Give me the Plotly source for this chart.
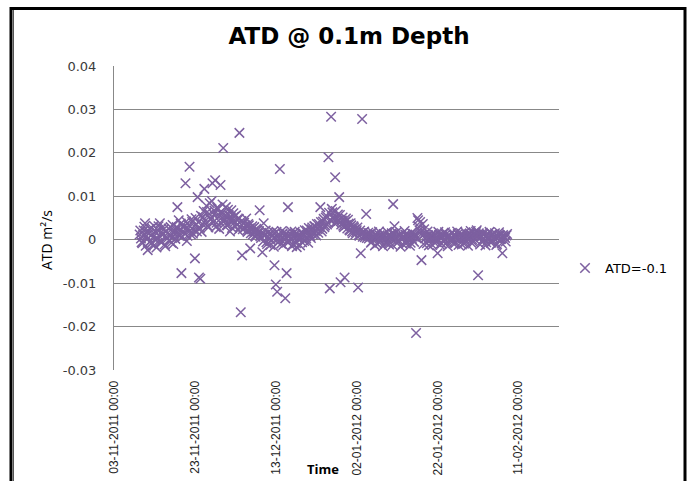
import pandas as pd
import plotly.graph_objects as go

# ---- chart text -------------------------------------------------------
title_text = "ATD @ 0.1m Depth"
series_name = "ATD=-0.1"
y_title = "ATD m\u00b2/s"
x_title = "Time"

# ---- sampling schedule of the logger (two interleaved 8-hourly runs) -----
first_sample = "2011-11-09 08:00"
first_sample_mid = "2011-11-09 12:00"
sample_step = "8h"

# ---- apparent thermal diffusivity at 0.1 m (m^2/s) --------------------------
# samples at 00:00 / 08:00 / 16:00
atd_values = [
    # 0-9
    0.0012, 0.0003, -0.0008, 0.0021, 0.0038, 0.0009, -0.0024, 0.0015, -0.0004, 0.0027,
    # 10-19
    0.0006, -0.0012, 0.0018, 0.0002, 0.0031, 0.0038, -0.0006, 0.0011, 0.0024, -0.0015,
    # 20-29
    0.0007, 0.0016, -0.0002, 0.0029, 0.0004, -0.0010, 0.0013, 0.0022, 0.0075, 0.0045,
    # 30-39
    0.0009, -0.0077, 0.0019, 0.0031, 0.0130, -0.0003, 0.0026, 0.0168, 0.0012, 0.0041,
    # 40-49
    0.0023, -0.0043, 0.0035, 0.0098, -0.0087, -0.0090, 0.0018, 0.0052, 0.0117, 0.0036,
    # 50-59
    0.0064, 0.0028, 0.0084, 0.0047, 0.0130, 0.0058, 0.0137, 0.0039, 0.0071, 0.0025,
    # 60-69
    0.0126, 0.0061, 0.0211, 0.0044, 0.0075, 0.0033, 0.0057, 0.0019, 0.0068, 0.0042,
    # 70-79
    0.0053, 0.0031, 0.0046, 0.0022, 0.0246, -0.0167, -0.0036, 0.0038, 0.0027, 0.0049,
    # 80-89
    0.0018, 0.0033, -0.0020, 0.0024, 0.0012, 0.0029, 0.0007, 0.0021, 0.0015, 0.0068,
    # 90-99
    0.0004, -0.0029, 0.0038, 0.0011, -0.0006, 0.0016, 0.0002, -0.0012, 0.0009, 0.0019,
    # 100-109
    -0.0059, -0.0103, -0.0120, 0.0003, 0.0163, -0.0009, 0.0014, 0.0001, -0.0135, -0.0077,
    # 110-119
    0.0075, -0.0004, 0.0012, -0.0015, 0.0007, 0.0018, -0.0008, 0.0003, 0.0011, -0.0013,
    # 120-129
    0.0006, 0.0015, -0.0003, 0.0009, 0.0021, -0.0007, 0.0013, 0.0004, 0.0028, 0.0017,
    # 130-139
    0.0031, 0.0010, 0.0024, 0.0036, 0.0075, 0.0019, 0.0042, 0.0029, 0.0051, 0.0035,
    # 140-149
    0.0190, -0.0112, 0.0283, 0.0063, 0.0047, 0.0144, 0.0039, 0.0058, 0.0098, -0.0098,
    # 150-159
    0.0044, 0.0032, -0.0087, 0.0049, 0.0026, 0.0037, 0.0021, 0.0033, 0.0015, 0.0028,
    # 160-169
    0.0012, 0.0022, -0.0110, 0.0009, -0.0031, 0.0278, 0.0017, 0.0006, 0.0059, 0.0011,
    # 170-179
    0.0003, 0.0014, -0.0005, 0.0008, 0.0002, 0.0012, -0.0009, 0.0005, 0.0010, -0.0002,
    # 180-189
    0.0007, 0.0013, -0.0006, 0.0004, 0.0009, -0.0011, 0.0006, 0.0015, 0.0082, 0.0031,
    # 190-199
    0.0001, 0.0008, -0.0004, 0.0011, 0.0003, -0.0010, 0.0006, 0.0012, -0.0003, 0.0005,
    # 200-209
    0.0009, -0.0007, 0.0002, 0.0013, 0.0007, -0.0215, 0.0050, 0.0030, 0.0041, -0.0047,
    # 210-219
    0.0036, 0.0024, 0.0004, -0.0008, 0.0010, 0.0002, 0.0006, -0.0012, 0.0008, 0.0003,
    # 220-229
    -0.0005, -0.0031, 0.0011, 0.0004, -0.0009, 0.0007, 0.0001, 0.0012, -0.0006, 0.0005,
    # 230-239
    0.0009, -0.0003, 0.0002, 0.0010, -0.0008, 0.0006, 0.0013, 0.0000, 0.0004, -0.0011,
    # 240-249
    0.0008, 0.0003, -0.0004, 0.0011, 0.0005, 0.0014, -0.0007, 0.0009, 0.0016, 0.0010,
    # 250-259
    0.0022, -0.0082, 0.0012, 0.0006, -0.0002, 0.0013, 0.0008, -0.0006, 0.0011, 0.0004,
    # 260-269
    0.0009, -0.0005, 0.0012, 0.0003, 0.0007, -0.0010, 0.0006, 0.0011, 0.0002, -0.0031,
    # 270-272
    0.0008, 0.0004, 0.0010,
]

# samples at 04:00 / 12:00 / 20:00
atd_values_mid = [
    # 0-9
    0.0021, -0.0006, 0.0011, 0.0030, -0.0014, 0.0017, 0.0004, 0.0025, -0.0009, 0.0013,
    # 10-19
    0.0032, 0.0001, -0.0018, 0.0022, 0.0008, -0.0003, 0.0027, 0.0014, -0.0011, 0.0019,
    # 20-29
    0.0003, 0.0026, 0.0010, -0.0007, 0.0034, 0.0016, 0.0002, 0.0029, 0.0012, 0.0023,
    # 30-39
    0.0037, 0.0006, 0.0028, 0.0015, 0.0042, 0.0009, 0.0033, 0.0021, 0.0047, 0.0014,
    # 40-49
    0.0031, 0.0050, 0.0019, 0.0040, 0.0027, 0.0055, 0.0036, 0.0066, 0.0043, 0.0078,
    # 50-59
    0.0032, 0.0059, 0.0048, 0.0089, 0.0041, 0.0067, 0.0029, 0.0074, 0.0053, 0.0062,
    # 60-69
    0.0038, 0.0081, 0.0049, 0.0057, 0.0034, 0.0069, 0.0045, 0.0052, 0.0027, 0.0061,
    # 70-79
    0.0040, 0.0056, 0.0035, 0.0048, 0.0030, 0.0043, 0.0024, 0.0039, 0.0033, 0.0021,
    # 80-89
    0.0036, 0.0026, 0.0015, 0.0031, 0.0019, 0.0009, 0.0025, 0.0014, 0.0020, 0.0008,
    # 90-99
    0.0016, -0.0004, 0.0012, 0.0021, -0.0010, 0.0007, 0.0015, -0.0002, 0.0011, -0.0016,
    # 100-109
    0.0005, 0.0018, -0.0007, 0.0010, 0.0001, 0.0020, -0.0012, 0.0008, 0.0014, -0.0005,
    # 110-119
    0.0009, 0.0002, 0.0019, -0.0011, 0.0006, 0.0013, -0.0017, 0.0010, 0.0004, 0.0016,
    # 120-129
    -0.0006, 0.0011, 0.0022, 0.0003, 0.0015, 0.0027, 0.0008, 0.0024, 0.0012, 0.0031,
    # 130-139
    0.0020, 0.0036, 0.0016, 0.0029, 0.0041, 0.0025, 0.0048, 0.0033, 0.0055, 0.0039,
    # 140-149
    0.0062, 0.0045, 0.0071, 0.0052, 0.0038, 0.0066, 0.0049, 0.0043, 0.0057, 0.0035,
    # 150-159
    0.0051, 0.0029, 0.0042, 0.0034, 0.0046, 0.0023, 0.0038, 0.0019, 0.0031, 0.0024,
    # 160-169
    0.0017, 0.0028, 0.0011, 0.0021, 0.0015, 0.0007, 0.0019, 0.0012, 0.0004, 0.0016,
    # 170-179
    0.0009, -0.0007, 0.0017, 0.0004, -0.0013, 0.0011, 0.0006, 0.0019, -0.0004, 0.0008,
    # 180-189
    -0.0015, 0.0012, 0.0003, 0.0018, -0.0008, 0.0010, 0.0002, -0.0012, 0.0014, 0.0007,
    # 190-199
    0.0017, -0.0006, 0.0009, -0.0016, 0.0013, 0.0005, 0.0020, -0.0009, 0.0011, 0.0001,
    # 200-209
    -0.0014, 0.0016, 0.0007, -0.0005, 0.0012, 0.0003, 0.0045, 0.0022, 0.0018, 0.0009,
    # 210-219
    -0.0010, 0.0014, 0.0006, 0.0019, -0.0013, 0.0008, 0.0002, 0.0015, -0.0006, 0.0011,
    # 220-229
    0.0004, 0.0018, -0.0011, 0.0009, 0.0013, -0.0003, 0.0017, 0.0006, -0.0015, 0.0010,
    # 230-239
    0.0002, 0.0016, -0.0008, 0.0012, 0.0005, 0.0019, -0.0012, 0.0008, 0.0014, 0.0003,
    # 240-249
    -0.0009, 0.0017, 0.0006, -0.0014, 0.0011, 0.0020, 0.0001, -0.0006, 0.0013, 0.0018,
    # 250-259
    0.0009, 0.0015, -0.0011, 0.0007, 0.0016, 0.0002, -0.0013, 0.0010, 0.0005, 0.0018,
    # 260-269
    -0.0007, 0.0012, 0.0004, 0.0015, -0.0012, 0.0009, 0.0017, 0.0001, -0.0008, 0.0011,
    # 270-272
    0.0006, -0.0004, 0.0013,
]

# ---- axes ---------------------------------------------------------------
x_range = ["2011-11-03", "2012-02-21"]
x_tick_dates = ["2011-11-03", "2011-11-23", "2011-12-13",
                "2012-01-02", "2012-01-22", "2012-02-11"]
x_tick_labels = ["03-11-2011 00:00", "23-11-2011 00:00", "13-12-2011 00:00",
                 "02-01-2012 00:00", "22-01-2012 00:00", "11-02-2012 00:00"]
y_range = [-0.03, 0.04]
y_tick_values = [0.04, 0.03, 0.02, 0.01, 0, -0.01, -0.02, -0.03]
y_tick_labels = ["0.04", "0.03", "0.02", "0.01", "0", "-0.01", "-0.02", "-0.03"]

# ---- styling --------------------------------------------------------------
W, H = 691, 481
M_L, M_R, M_T, M_B = 114, 132, 66, 111
PLOT_W = W - M_L - M_R
PLOT_H = H - M_T - M_B
PURPLE = "#7d60a0"
GRID = "#888888"


def px_x(p):
    """Pixel column -> paper x fraction."""
    return (p - M_L) / PLOT_W


def px_y(p):
    """Pixel row -> paper y fraction."""
    return (H - M_B - p) / PLOT_H


times = list(pd.date_range(first_sample, periods=len(atd_values), freq=sample_step))
times_mid = list(pd.date_range(first_sample_mid, periods=len(atd_values_mid), freq=sample_step))

fig = go.Figure()
fig.add_trace(go.Scatter(
    x=times + times_mid,
    y=atd_values + atd_values_mid,
    mode="markers",
    name=series_name,
    marker=dict(symbol="x-thin", size=9.5, color=PURPLE,
                line=dict(color=PURPLE, width=1.5)),
    showlegend=True,
))

fig.update_layout(
    width=W, height=H, autosize=False,
    margin=dict(l=M_L, r=M_R, t=M_T, b=M_B, pad=0),
    paper_bgcolor="white", plot_bgcolor="white",
    title=dict(text=f"<b>{title_text}</b>", xref="container", yref="container",
               x=349 / W, y=1 - 36 / H, xanchor="center", yanchor="middle",
               font=dict(family="DejaVu Sans", size=23, color="#000000")),
    showlegend=True,
    legend=dict(x=px_x(565), y=px_y(268), xanchor="left", yanchor="middle",
                bgcolor="rgba(0,0,0,0)", borderwidth=0,
                font=dict(family="DejaVu Sans", size=13, color="#000000")),
    xaxis=dict(
        type="date", range=x_range, tickmode="array",
        tickvals=x_tick_dates, ticktext=x_tick_labels, tickangle=-90,
        tickfont=dict(family="Liberation Sans", size=12, color="#222222"),
        showgrid=False, zeroline=False, ticks="",
        showline=True, linecolor="white", linewidth=2,
        ticklabelstandoff=4, automargin=False, fixedrange=True,
    ),
    yaxis=dict(
        range=y_range, tickmode="array",
        tickvals=y_tick_values, ticktext=y_tick_labels,
        tickfont=dict(family="DejaVu Sans", size=13, color="#3a3a3a"),
        showgrid=True, gridcolor=GRID, gridwidth=1, zeroline=False,
        showline=True, linecolor=GRID, linewidth=1, ticks="",
        ticklabelstandoff=14, automargin=False, fixedrange=True,
    ),
    annotations=[
        dict(text=y_title, xref="paper", yref="paper", x=px_x(46), y=px_y(240),
             xanchor="center", yanchor="middle", textangle=-90, showarrow=False,
             font=dict(family="Open Sans", size=14, color="#000000")),
        dict(text=f"<b>{x_title}</b>", xref="paper", yref="paper",
             x=px_x(323), y=px_y(469), xanchor="center", yanchor="middle",
             showarrow=False,
             font=dict(family="Open Sans", size=13, color="#000000")),
    ],
    shapes=[
        dict(type="rect", xref="paper", yref="paper",
             x0=px_x(11), x1=px_x(685), y0=px_y(500), y1=px_y(8.5),
             line=dict(color="black", width=3), layer="above"),
        dict(type="line", xref="paper", yref="paper",
             x0=px_x(13.5), x1=px_x(13.5), y0=px_y(500), y1=px_y(10),
             line=dict(color="#555555", width=1), layer="above"),
    ],
)

fig.write_html("out.html")
